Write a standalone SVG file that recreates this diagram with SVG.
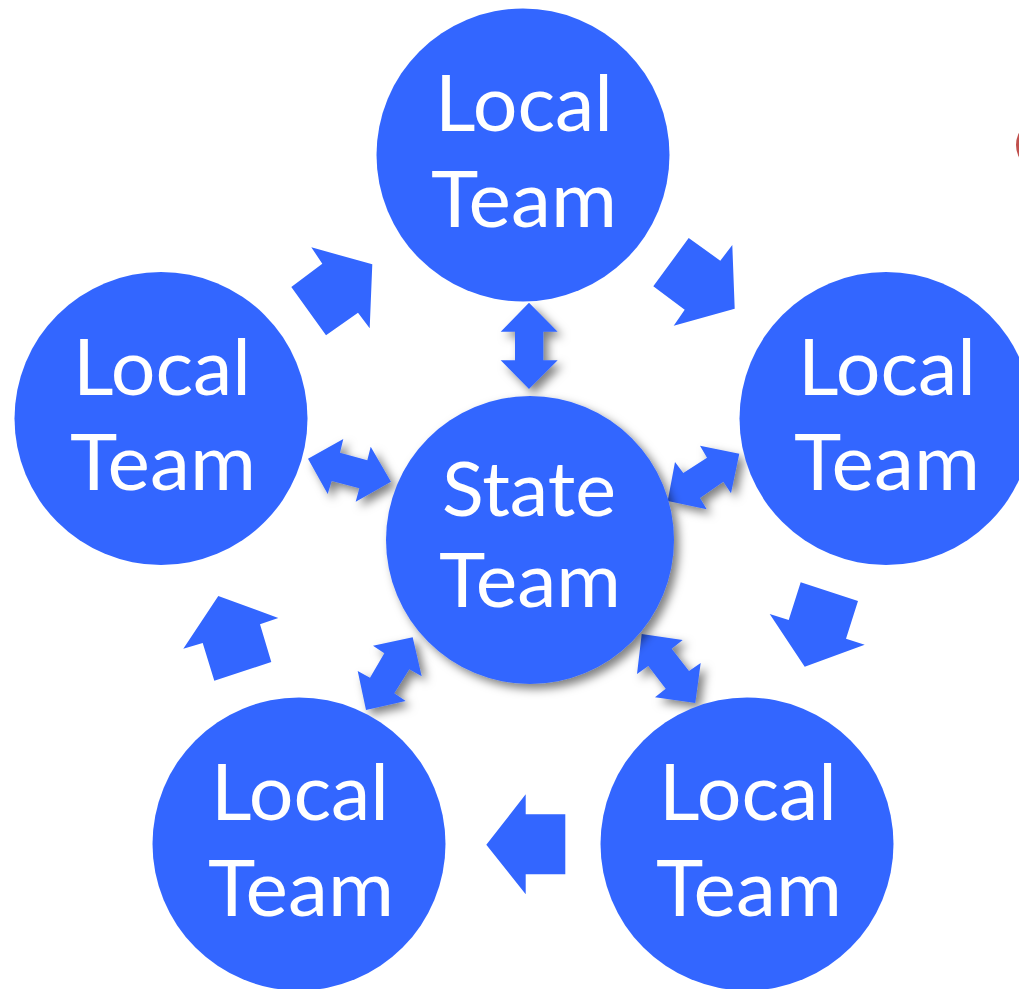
<svg xmlns="http://www.w3.org/2000/svg" width="1019" height="989" viewBox="0 0 1019 989">
<style>
.bg{fill:#fff}
.n{fill:#3366ff}
.a{fill:#3366ff}
.s{filter:url(#sh)}
.t{font-family:"Lato","Open Sans","Liberation Sans",sans-serif;fill:#fff;font-size:78px;text-anchor:middle}
.c{font-size:75px}
</style>
<defs>
<filter id="sh" x="-30%" y="-30%" width="170%" height="170%">
<feDropShadow dx="5" dy="5" stdDeviation="5" flood-color="#000" flood-opacity="0.5"/>
</filter>
</defs>
<rect class="bg" width="1019" height="989"/>
<circle id="edge-mark" cx="1043" cy="145" r="27" fill="#c0504d"/>
<g id="connectors">
<polygon class="a" points="311.3,247.3 372.3,264.3 369.7,328.3 358,312.7 326,335.3 291.3,287 322.3,263.7"/>
<polygon class="a" points="688.7,238 720.3,260.7 732.3,245 734.7,308.7 673.7,325.7 684.7,309.7 653.3,286.3"/>
<polygon class="a" points="800.7,582.3 858,601 846,638.7 864.7,644.7 804.7,666.7 769.7,614 788.7,620"/>
<polygon class="a" points="525.7,794.3 525.7,814.3 565.3,814.3 565.3,874.3 525.7,874.3 525.7,894.3 486.3,844.7"/>
<polygon class="a" points="218.3,596 278.3,618 260,624.3 271.3,662 214.3,680.7 202.7,643 183.3,648.7"/>
<polygon class="a s" points="529,302.7 557.7,331.7 543.3,331.7 543.3,360.3 557.7,360.3 529,389 500.7,360.3 515,360.3 515,331.7 500.7,331.7"/>
<polygon class="a s" points="308,458.7 343.3,439 340,452.7 367.3,460.3 370.7,446.7 391,481.7 355.7,501.7 359.3,488.3 331.7,481 327.7,494"/>
<polygon class="a s" points="739.3,453.7 700,445.7 707,457.7 683.3,473 675,462 667.7,501 706.7,509.3 700,498 723.3,481.7 731,493.3"/>
<polygon class="a s" points="412.7,637.3 373,645.7 384.3,653.3 370,677.7 357.7,671 366,710 405.7,701 394.3,693.3 409.3,669.3 421.7,676.3"/>
<polygon class="a s" points="641.7,634 682.7,640 671.7,648.7 689,671 700.7,663 695.3,703 655,697.3 665.7,688.7 648.3,666 637,674"/>
</g>
<g id="node-top"><circle class="n" cx="523" cy="155" r="146.5"/>
<text class="t" x="524" y="131" textLength="178" lengthAdjust="spacingAndGlyphs">Local</text><text class="t" x="524" y="227" textLength="186" lengthAdjust="spacingAndGlyphs">Team</text></g>
<g id="node-left"><circle class="n" cx="161" cy="418.5" r="146.5"/>
<text class="t" x="162" y="394.5" textLength="178" lengthAdjust="spacingAndGlyphs">Local</text><text class="t" x="163" y="490" textLength="186" lengthAdjust="spacingAndGlyphs">Team</text></g>
<g id="node-right"><circle class="n" cx="886" cy="418.5" r="146.5"/>
<text class="t" x="887" y="394.5" textLength="178" lengthAdjust="spacingAndGlyphs">Local</text><text class="t" x="887" y="490" textLength="186" lengthAdjust="spacingAndGlyphs">Team</text></g>
<g id="node-bottom-left"><circle class="n" cx="299" cy="844" r="146.5"/>
<text class="t" x="300" y="820" textLength="178" lengthAdjust="spacingAndGlyphs">Local</text><text class="t" x="301" y="916" textLength="186" lengthAdjust="spacingAndGlyphs">Team</text></g>
<g id="node-bottom-right"><circle class="n" cx="747" cy="844" r="146.5"/>
<text class="t" x="748" y="820" textLength="178" lengthAdjust="spacingAndGlyphs">Local</text><text class="t" x="749" y="916" textLength="186" lengthAdjust="spacingAndGlyphs">Team</text></g>
<g id="node-center"><circle class="n s" cx="530" cy="540" r="144"/>
<text class="t c" x="529" y="516" textLength="174" lengthAdjust="spacingAndGlyphs">State</text><text class="t c" x="530" y="607" textLength="182" lengthAdjust="spacingAndGlyphs">Team</text></g>
</svg>
